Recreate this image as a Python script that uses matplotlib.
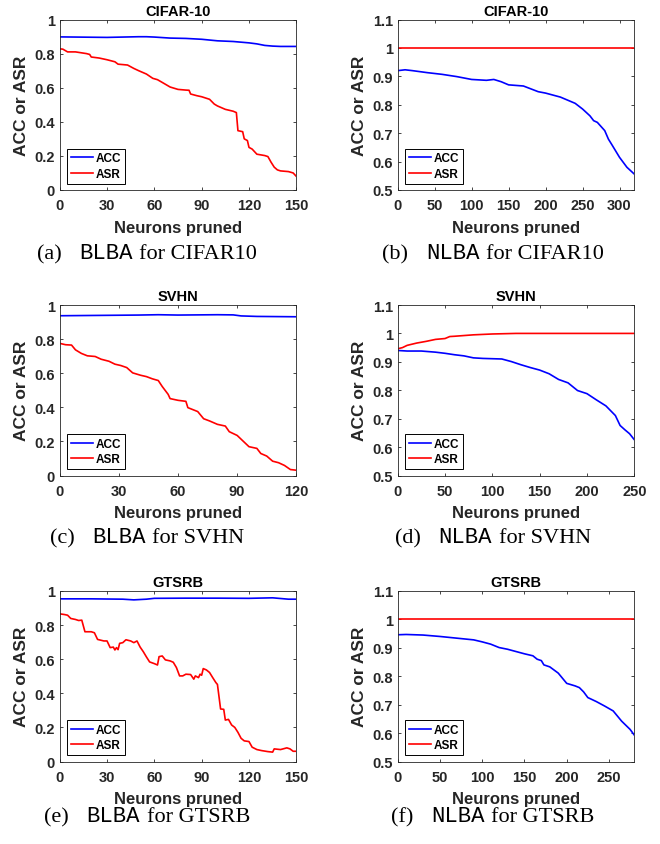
import numpy as np
import matplotlib
matplotlib.use('Agg')
import matplotlib.pyplot as plt

plt.rcParams['font.family'] = ['Liberation Sans', 'DejaVu Sans']

# (a) BLBA CIFAR10
a_acc_x = [0, 10, 20, 30, 40, 50, 55, 60, 70, 80, 90, 100, 110, 120, 125, 130, 135, 140, 150]
a_acc = [0.898, 0.897, 0.896, 0.895, 0.897, 0.899, 0.899, 0.897, 0.891, 0.889, 0.884, 0.875,
         0.871, 0.863, 0.857, 0.848, 0.844, 0.842, 0.842]
a_asr_x = [0, 2, 5, 10, 17, 19, 20, 25, 30, 35, 37, 43, 47, 50, 55, 59, 62, 65, 70, 75, 80, 82, 83,
           87, 90, 95, 98, 100, 105, 110, 112, 113, 116, 117, 119, 120, 122, 125, 130, 132, 134,
           136, 138, 140, 145, 148, 150]
a_asr = [0.828, 0.826, 0.81, 0.81, 0.80, 0.795, 0.78, 0.774, 0.764, 0.752, 0.738, 0.733, 0.713,
         0.70, 0.68, 0.655, 0.647, 0.631, 0.604, 0.59, 0.586, 0.585, 0.563, 0.553, 0.547, 0.532,
         0.504, 0.493, 0.473, 0.462, 0.454, 0.348, 0.342, 0.30, 0.29, 0.25, 0.24, 0.21, 0.202,
         0.196, 0.163, 0.134, 0.118, 0.112, 0.108, 0.10, 0.08]

# (b) NLBA CIFAR10
b_acc_x = [0, 10, 20, 40, 60, 80, 100, 120, 130, 140, 150, 170, 190, 200, 220, 240, 250, 260,
           265, 270, 280, 285, 290, 300, 310, 320]
b_acc = [0.92, 0.923, 0.92, 0.913, 0.907, 0.899, 0.889, 0.886, 0.889, 0.881, 0.87, 0.866, 0.846,
         0.841, 0.827, 0.805, 0.785, 0.761, 0.744, 0.738, 0.709, 0.679, 0.658, 0.615, 0.58, 0.556]
b_asr_x = [0, 320]
b_asr = [1.0, 1.0]

# (c) BLBA SVHN
c_acc_x = [0, 20, 40, 50, 60, 70, 80, 88, 92, 100, 110, 120]
c_acc = [0.937, 0.939, 0.941, 0.943, 0.941, 0.942, 0.943, 0.942, 0.936, 0.933, 0.932, 0.931]
c_asr_x = [0, 3, 6, 8, 11, 14, 18, 21, 25, 28, 31, 34, 37, 41, 44, 47, 50, 52, 55, 56, 60, 64,
           65, 70, 73, 76, 80, 84, 86, 90, 93, 96, 100, 102, 105, 108, 111, 114, 117, 120]
c_asr = [0.775, 0.767, 0.765, 0.737, 0.716, 0.702, 0.698, 0.682, 0.67, 0.653, 0.645, 0.633,
         0.602, 0.588, 0.58, 0.567, 0.557, 0.522, 0.476, 0.451, 0.441, 0.435, 0.398, 0.375,
         0.333, 0.32, 0.30, 0.29, 0.257, 0.235, 0.202, 0.169, 0.159, 0.129, 0.114, 0.084,
         0.075, 0.059, 0.035, 0.031]

# (d) NLBA SVHN
d_acc_x = [0, 10, 25, 40, 50, 60, 70, 80, 90, 100, 110, 120, 130, 140, 150, 160, 170, 180, 190,
           200, 210, 220, 230, 235, 240, 245, 250]
d_acc = [0.94, 0.938, 0.938, 0.934, 0.93, 0.925, 0.921, 0.914, 0.912, 0.911, 0.91, 0.901, 0.89,
         0.88, 0.871, 0.858, 0.838, 0.826, 0.799, 0.788, 0.766, 0.745, 0.711, 0.676, 0.661,
         0.647, 0.626]
d_asr_x = [0, 5, 10, 20, 30, 40, 50, 55, 60, 80, 100, 125, 250]
d_asr = [0.946, 0.95, 0.958, 0.966, 0.972, 0.979, 0.982, 0.989, 0.99, 0.995, 0.998, 1.0, 1.0]

# (e) BLBA GTSRB
e_acc_x = [0, 20, 40, 47, 55, 60, 80, 100, 120, 135, 145, 150]
e_acc = [0.954, 0.954, 0.952, 0.948, 0.952, 0.957, 0.958, 0.958, 0.957, 0.96, 0.952, 0.952]
e_asr_x = [0, 3, 5, 7, 10, 12, 14, 16, 20, 22, 24, 28, 30, 32, 34, 35, 36, 37, 38, 40, 42, 45,
           47, 49, 51, 53, 55, 57, 60, 62, 63, 65, 67, 70, 72, 74, 76, 78, 80, 83, 85, 86, 88,
           89, 90, 91, 93, 95, 97, 99, 100, 102, 104, 105, 107, 109, 111, 113, 115, 117, 120,
           122, 125, 128, 132, 135, 136, 140, 144, 146, 148, 150]
e_asr = [0.866, 0.862, 0.858, 0.839, 0.833, 0.827, 0.829, 0.761, 0.761, 0.755, 0.716, 0.707,
         0.707, 0.668, 0.671, 0.654, 0.668, 0.656, 0.693, 0.697, 0.714, 0.707, 0.697, 0.707,
         0.671, 0.644, 0.613, 0.584, 0.574, 0.566, 0.615, 0.619, 0.596, 0.59, 0.582, 0.551,
         0.502, 0.502, 0.512, 0.51, 0.483, 0.502, 0.492, 0.512, 0.506, 0.545, 0.537, 0.522,
         0.492, 0.463, 0.452, 0.308, 0.306, 0.243, 0.247, 0.214, 0.2, 0.171, 0.136, 0.121,
         0.117, 0.084, 0.07, 0.064, 0.058, 0.055, 0.074, 0.07, 0.08, 0.074, 0.06, 0.06]

# (f) NLBA GTSRB
f_acc_x = [0, 10, 30, 50, 70, 90, 100, 110, 120, 130, 140, 150, 160, 165, 170, 173, 180, 190,
           200, 210, 215, 220, 225, 235, 245, 255, 265, 275, 280]
f_acc = [0.946, 0.947, 0.945, 0.94, 0.934, 0.928, 0.921, 0.913, 0.901, 0.895, 0.887, 0.879,
         0.872, 0.86, 0.855, 0.84, 0.833, 0.811, 0.775, 0.766, 0.76, 0.745, 0.725, 0.711,
         0.695, 0.678, 0.642, 0.613, 0.593]
f_asr_x = [0, 280]
f_asr = [1.0, 1.0]

titles = ['CIFAR-10', 'CIFAR-10', 'SVHN', 'SVHN', 'GTSRB', 'GTSRB']
captions = [('(a)', 'BLBA', 'for CIFAR10'), ('(b)', 'NLBA', 'for CIFAR10'),
            ('(c)', 'BLBA', 'for SVHN'), ('(d)', 'NLBA', 'for SVHN'),
            ('(e)', 'BLBA', 'for GTSRB'), ('(f)', 'NLBA', 'for GTSRB')]
xmax = [150, 320, 120, 250, 150, 280]
xticks = [np.arange(0, 151, 30), np.arange(0, 301, 50), np.arange(0, 121, 30),
          np.arange(0, 251, 50), np.arange(0, 151, 30), np.arange(0, 251, 50)]
series = [(a_acc_x, a_acc, a_asr_x, a_asr), (b_acc_x, b_acc, b_asr_x, b_asr),
          (c_acc_x, c_acc, c_asr_x, c_asr), (d_acc_x, d_acc, d_asr_x, d_asr),
          (e_acc_x, e_acc, e_asr_x, e_asr), (f_acc_x, f_acc, f_asr_x, f_asr)]

W, H = 660, 845
fig = plt.figure(figsize=(W / 100, H / 100), dpi=100)

lefts = [59.7, 397.7]
tops = [20.5, 306, 592]
aw, ah = 236.6, 170.5
cap_base = [259, 543, 822]
cap_cx = [147, 493]
dark = '#262626'

for i in range(6):
    row, col = divmod(i, 2)
    ax = fig.add_axes([lefts[col] / W, 1 - (tops[row] + ah) / H, aw / W, ah / H])
    ax_, acc, asx, asr = series[i]
    ax.plot(ax_, acc, color='#0000ff', lw=1.2, label='ACC')
    ax.plot(asx, asr, color='#ff0000', lw=1.2, label='ASR')
    ax.set_xlim(0, xmax[i])
    ax.set_xticks(xticks[i])
    if col == 0:
        ax.set_ylim(0, 1)
        yt = [0, 0.2, 0.4, 0.6, 0.8, 1]
        ax.set_yticks(yt)
        ax.set_yticklabels(['0', '0.2', '0.4', '0.6', '0.8', '1'])
    else:
        ax.set_ylim(0.5, 1.1)
        yt = [0.5, 0.6, 0.7, 0.8, 0.9, 1.0, 1.1]
        ax.set_yticks(yt)
        ax.set_yticklabels(['0.5', '0.6', '0.7', '0.8', '0.9', '1', '1.1'])
    for s in ax.spines.values():
        s.set_color(dark)
        s.set_linewidth(0.6)
    ax.tick_params(direction='in', length=2.2, width=0.6, color=dark, top=True, right=True,
                   labelsize=10.5, labelcolor=dark)
    ax.tick_params(axis='x', pad=6)
    ax.tick_params(axis='y', pad=3.5)
    for lab in ax.get_xticklabels() + ax.get_yticklabels():
        lab.set_fontweight('bold')
    ax.set_title(titles[i], fontsize=10.5, fontweight='bold', pad=3.5)
    ax.set_xlabel('Neurons pruned', fontsize=12, fontweight='bold', color=dark)
    ax.set_ylabel('ACC or ASR', fontsize=12.5, fontweight='bold', color=dark)
    ax.xaxis.set_label_coords(0.5, -0.175)
    ax.yaxis.set_label_coords(-0.13, 0.5)
    leg = ax.legend(loc='lower left', bbox_to_anchor=(0.032, 0.038), borderaxespad=0,
                    fancybox=False, edgecolor='black', framealpha=1,
                    prop={'weight': 'bold', 'size': 8.5}, handlelength=1.85,
                    handletextpad=0.25, labelspacing=0.3, borderpad=0.3)
    leg.get_frame().set_linewidth(0.7)

# captions: serif label, typewriter name, serif rest
renderer = fig.canvas.get_renderer()
cap_size = 16
em = cap_size * 100 / 72
for i, (lab, mono, rest) in enumerate(captions):
    row, col = divmod(i, 2)
    y = 1 - cap_base[row] / H
    parts = [fig.text(0, y, lab, family='Liberation Serif', size=cap_size, va='baseline'),
             fig.text(0, y, mono, family='Liberation Mono', size=cap_size, va='baseline'),
             fig.text(0, y, rest, family='Liberation Serif', size=cap_size, va='baseline')]
    widths = [p.get_window_extent(renderer).width for p in parts]
    gaps = [em * 0.8, em * 0.3]
    total = sum(widths) + sum(gaps)
    x = cap_cx[col] - total / 2
    for k, p in enumerate(parts):
        p.set_x(x / W)
        x += widths[k]
        if k < 2:
            x += gaps[k]

fig.savefig('out.png', dpi=100)
